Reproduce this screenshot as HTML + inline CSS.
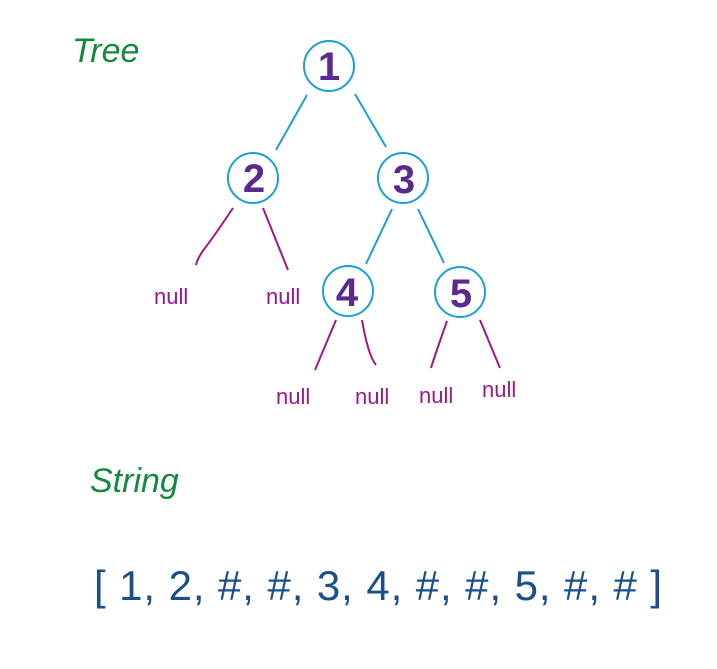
<!DOCTYPE html>
<html><head><meta charset="utf-8"><style>
html,body{margin:0;padding:0;background:#fff;}
svg{display:block;}
</style></head><body>
<svg width="717" height="669" viewBox="0 0 717 669" xmlns="http://www.w3.org/2000/svg">
<g font-family="Liberation Sans Narrow, Liberation Sans, sans-serif">
<text x="72" y="62" font-size="34" fill="#128a3c" font-style="italic">Tree</text>
<text x="90" y="492" font-size="34" fill="#128a3c" font-style="italic">String</text>
<g stroke="#1aa0d6" stroke-width="2" fill="none">
<circle cx="329" cy="66" r="25"/>
<circle cx="253" cy="178" r="25"/>
<circle cx="403" cy="178" r="25"/>
<circle cx="348" cy="291" r="25"/>
<circle cx="460" cy="292" r="25"/>
<line x1="307" y1="95" x2="276" y2="150"/>
<line x1="355" y1="94" x2="386" y2="147"/>
<line x1="392" y1="209" x2="366" y2="264"/>
<line x1="418" y1="209" x2="444" y2="263"/>
</g>
<g stroke="#a0168e" stroke-width="2" fill="none">
<path d="M233 208 Q215 235 205 248 Q198 257 196 265"/>
<path d="M263 208 L288 270"/>
<path d="M336 320 L315 370"/>
<path d="M362 320 Q368 355 376 365"/>
<path d="M447 321 Q435 355 431 368"/>
<path d="M480 320 L500 368"/>
</g>
<g font-size="40" fill="#5a2a8e" font-weight="bold" text-anchor="middle">
<text x="329" y="80">1</text>
<text x="254" y="192">2</text>
<text x="404" y="193">3</text>
<text x="347" y="306">4</text>
<text x="461" y="307">5</text>
</g>
<g font-size="22" fill="#a0168e">
<text x="154" y="304">null</text>
<text x="266" y="304">null</text>
<text x="276" y="404">null</text>
<text x="355" y="404">null</text>
<text x="419" y="403">null</text>
<text x="482" y="397">null</text>
</g>
<text x="94" y="600" font-size="42" fill="#1a4f8c" textLength="568" lengthAdjust="spacing">[ 1, 2, #, #, 3, 4, #, #, 5, #, # ]</text>
</g>
</svg>
</body></html>
